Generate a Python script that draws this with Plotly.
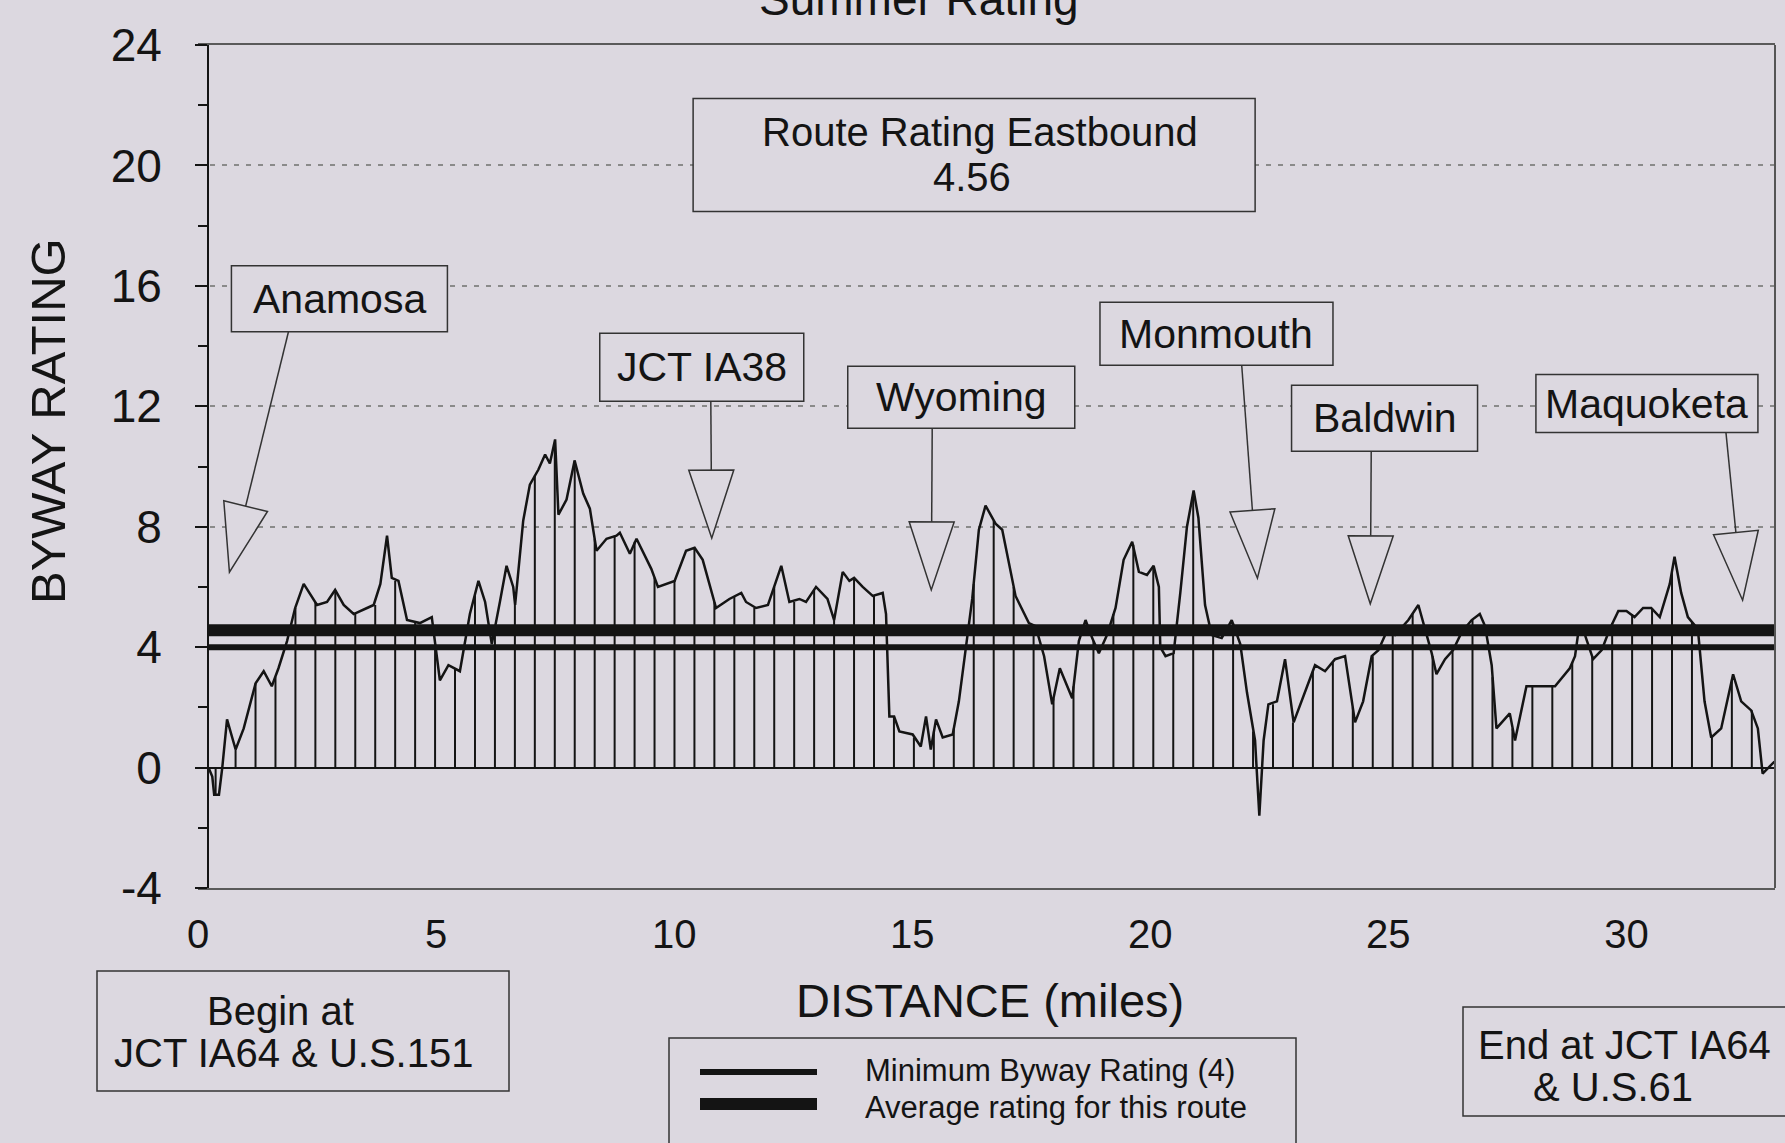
import plotly.graph_objects as go

# ---------------- data ----------------
miles = [0.22, 0.30, 0.34, 0.44, 0.51, 0.61, 0.79, 0.96, 1.21, 1.38, 1.55, 1.69, 1.87, 2.04, 2.22,
         2.50, 2.71, 2.88, 3.06, 3.27, 3.55, 3.69, 3.83, 3.97, 4.07, 4.21, 4.39, 4.66, 4.91, 5.01,
         5.08, 5.26, 5.50, 5.71, 5.89, 6.03, 6.17, 6.34, 6.48, 6.62, 6.66, 6.83, 6.97, 7.15, 7.29,
         7.39, 7.50, 7.57, 7.74, 7.91, 8.09, 8.23, 8.37, 8.58, 8.79, 8.86, 9.07, 9.21, 9.52, 9.66,
         10.01, 10.25, 10.43, 10.60, 10.88, 11.16, 11.41, 11.51, 11.72, 11.97, 12.14, 12.25, 12.42,
         12.63, 12.77, 12.98, 13.22, 13.36, 13.54, 13.68, 13.78, 13.96, 14.17, 14.38, 14.45, 14.52,
         14.62, 14.73, 15.01, 15.18, 15.29, 15.39, 15.50, 15.64, 15.85, 15.98, 16.12, 16.26, 16.40,
         16.54, 16.75, 16.89, 17.17, 17.45, 17.59, 17.77, 17.94, 18.10, 18.36, 18.50, 18.64, 18.78,
         18.92, 19.09, 19.27, 19.44, 19.62, 19.76, 19.93, 20.07, 20.18, 20.21, 20.32, 20.49, 20.63,
         20.77, 20.91, 21.01, 21.15, 21.29, 21.50, 21.71, 21.89, 22.03, 22.20, 22.29, 22.38, 22.48,
         22.66, 22.83, 23.01, 23.25, 23.46, 23.67, 23.88, 24.09, 24.30, 24.47, 24.65, 24.79, 24.96,
         25.14, 25.42, 25.63, 25.77, 25.91, 26.01, 26.19, 26.36, 26.54, 26.75, 26.92, 27.03, 27.17,
         27.27, 27.55, 27.66, 27.90, 28.50, 28.81, 28.92, 28.99, 29.13, 29.30, 29.48, 29.65, 29.83,
         30.00, 30.17, 30.35, 30.52, 30.70, 30.91, 31.01, 31.15, 31.29, 31.50, 31.64, 31.78, 31.99,
         32.24, 32.41, 32.62, 32.76, 32.86, 33.04, 33.11]
rating = [0.0, -0.3, -0.9, -0.9, 0.0, 1.6, 0.6, 1.3, 2.8, 3.2, 2.7, 3.3, 4.2, 5.3, 6.1,
          5.4, 5.5, 5.9, 5.4, 5.1, 5.3, 5.4, 6.1, 7.7, 6.3, 6.2, 4.9, 4.8, 5.0, 3.8,
          2.9, 3.4, 3.2, 5.1, 6.2, 5.5, 4.1, 5.5, 6.7, 6.0, 5.4, 8.2, 9.4, 9.9, 10.4,
          10.1, 10.9, 8.4, 8.9, 10.2, 9.1, 8.6, 7.2, 7.6, 7.7, 7.8, 7.1, 7.6, 6.6, 6.0,
          6.2, 7.2, 7.3, 6.9, 5.3, 5.6, 5.8, 5.5, 5.3, 5.4, 6.2, 6.7, 5.5,
          5.6, 5.5, 6.0, 5.6, 4.9, 6.5, 6.2, 6.3, 6.0, 5.7, 5.8, 5.1, 1.7,
          1.7, 1.2, 1.1, 0.7, 1.7, 0.6, 1.6, 1.0, 1.1, 2.2, 3.9, 5.6, 7.9,
          8.7, 8.1, 7.9, 5.7, 4.8, 4.7, 3.7, 2.1, 3.3, 2.3, 4.2, 4.9, 4.3,
          3.8, 4.4, 5.3, 6.9, 7.5, 6.5, 6.4, 6.7, 6.0, 4.0, 3.7, 3.8, 5.8,
          8.0, 9.2, 8.3, 5.4, 4.4, 4.3, 4.9, 4.1, 2.5, 0.9, -1.6, 0.9, 2.1,
          2.2, 3.6, 1.5, 2.5, 3.4, 3.2, 3.6, 3.7, 1.5, 2.2, 3.7, 3.9, 4.5,
          4.4, 4.9, 5.4, 4.6, 3.8, 3.1, 3.6, 3.9, 4.5, 4.9, 5.1, 4.7, 3.4,
          1.3, 1.8, 0.9, 2.7, 2.7, 3.3, 3.7, 4.5, 4.4, 3.6, 3.9, 4.6, 5.2,
          5.2, 5.0, 5.3, 5.3, 5.0, 6.1, 7.0, 5.8, 5.0, 4.6, 2.2, 1.0, 1.3,
          3.1, 2.2, 1.9, 1.3, -0.2, 0.1, 0.2]

# vertical drop lines: first position, spacing (miles) and the heights read at each one
stem_start = 0.37
stem_step = 0.419
stem_rating = [-0.9, 0.6, 2.8, 3.0, 5.3, 5.5, 5.9, 5.1, 5.4, 6.2, 4.8, 4.1, 3.3, 5.8, 4.7,
               5.4, 9.7, 10.7, 10.2, 7.6, 7.7, 7.5, 6.3, 6.2, 7.3, 5.5, 5.7, 5.3, 6.0, 5.5,
               5.9, 4.9, 6.3, 5.7, 1.7, 1.0, 1.2, 1.3, 6.1, 8.2, 6.0, 4.7, 2.3, 2.7, 4.2,
               5.1, 7.4, 6.7, 3.8, 9.1, 4.4, 4.8, 1.2, 2.1, 1.5, 3.2, 3.5, 2.0, 3.7, 4.4,
               5.1, 3.7, 3.9, 4.9, 3.0, 1.3, 2.7, 2.7, 3.5, 3.7, 4.8, 5.1, 5.3, 6.5, 4.8,
               1.0, 2.9, 1.9]

min_rating = 4.0      # Minimum Byway Rating
avg_rating = 4.56     # Route Rating Eastbound

x_ticks = [0, 5, 10, 15, 20, 25, 30]
y_ticks = [-4, 0, 4, 8, 12, 16, 20, 24]
y_tick_labels = ["-4", "0", "4", "8", "12", "16", "20", "24"]

# town callouts: name, mile and rating the arrow points at
callout_names = ["Anamosa", "JCT IA38", "Wyoming", "Monmouth", "Baldwin", "Maquoketa"]
callout_tip_mile = [0.66, 10.79, 15.40, 22.25, 24.62, 32.44]
callout_tip_rating = [6.49, 7.62, 5.90, 6.29, 5.44, 5.56]

# ---------------- layout constants ----------------
W, H = 1785, 1143
ML, MR, MT, MB = 198, 10, 45, 255
PW, PH = W - ML - MR, H - MT - MB
XR = [0, 33.12]
YR = [-4, 24]
pxm = PW / (XR[1] - XR[0])
pxu = PH / (YR[1] - YR[0])

BG = "#dcd8e0"
INK = "#141414"
BOXLINE = "#333333"
FONT = "Liberation Sans, Arial, sans-serif"

# callout box placement (box centre in data units, box size in px, connector start)
cbox_x = [2.97, 10.58, 16.03, 21.39, 24.92, 30.43]
cbox_y = [15.57, 13.30, 12.30, 14.41, 11.60, 12.09]
cbox_w = [216, 204, 227, 233, 186, 222]
cbox_h = [66, 68, 62, 63, 66, 58]
cline_x = [1.90, 10.77, 15.42, 21.92, 24.64, 32.09]


def d2p(x, y):
    return ML + (x - XR[0]) * pxm, MT + (YR[1] - y) * pxu


def p2d(X, Y):
    return XR[0] + (X - ML) / pxm, YR[1] - (Y - MT) / pxu


def pp(X, Y):
    """absolute page px -> paper coords"""
    return (X - ML) / PW, (H - MB - Y) / PH


fig = go.Figure()

# drop lines
sx, sy = [], []
for k, v in enumerate(stem_rating):
    x = stem_start + k * stem_step
    sx += [x, x, None]
    sy += [0, v, None]
fig.add_trace(go.Scatter(x=sx, y=sy, mode="lines", line=dict(color=INK, width=2),
                         hoverinfo="skip", showlegend=False))
# rating curve
fig.add_trace(go.Scatter(x=miles, y=rating, mode="lines", line=dict(color=INK, width=2.5),
                         name="Rating", showlegend=False))
# minimum and average lines
fig.add_trace(go.Scatter(x=[miles[0], XR[1]], y=[min_rating, min_rating], mode="lines",
                         line=dict(color=INK, width=6), name="Minimum Byway Rating (4)",
                         showlegend=False))
fig.add_trace(go.Scatter(x=[miles[0], XR[1]], y=[avg_rating, avg_rating], mode="lines",
                         line=dict(color=INK, width=12), name="Average rating for this route",
                         showlegend=False))

shapes = []
annotations = []

# callouts
for i, name in enumerate(callout_names):
    cx, cy = d2p(cbox_x[i], cbox_y[i])
    w, h = cbox_w[i], cbox_h[i]
    x0, y0 = p2d(cx - w / 2, cy + h / 2)
    x1, y1 = p2d(cx + w / 2, cy - h / 2)
    shapes.append(dict(type="rect", xref="x", yref="y", x0=x0, x1=x1, y0=y0, y1=y1,
                       line=dict(color=BOXLINE, width=1.5), fillcolor=BG, layer="above"))
    annotations.append(dict(x=cbox_x[i], y=cbox_y[i], xref="x", yref="y", text=name,
                            showarrow=False, font=dict(size=41, color=INK)))
    # connector + open triangle head
    sxp, syp = d2p(cline_x[i], 0)[0], cy + h / 2
    tx, ty = d2p(callout_tip_mile[i], callout_tip_rating[i])
    dx, dy = tx - sxp, ty - syp
    L = (dx * dx + dy * dy) ** 0.5
    ux, uy = dx / L, dy / L
    bx, by = tx - 68 * ux, ty - 68 * uy
    px_, py_ = -uy, ux
    a = p2d(bx + 22.5 * px_, by + 22.5 * py_)
    b = p2d(bx - 22.5 * px_, by - 22.5 * py_)
    t = p2d(tx, ty)
    s0 = p2d(sxp, syp)
    bc = p2d(bx, by)
    shapes.append(dict(type="line", xref="x", yref="y", x0=s0[0], y0=s0[1], x1=bc[0], y1=bc[1],
                       line=dict(color=BOXLINE, width=1.5), layer="above"))
    shapes.append(dict(type="path", xref="x", yref="y",
                       path=f"M {a[0]},{a[1]} L {b[0]},{b[1]} L {t[0]},{t[1]} Z",
                       line=dict(color=BOXLINE, width=1.5), fillcolor=BG, layer="above"))

# route rating box
rx, ry = 16.30, 20.35
rcx, rcy = d2p(rx, ry)
r0 = p2d(rcx - 281, rcy + 56.5)
r1 = p2d(rcx + 281, rcy - 56.5)
shapes.append(dict(type="rect", xref="x", yref="y", x0=r0[0], y0=r0[1], x1=r1[0], y1=r1[1],
                   line=dict(color=BOXLINE, width=1.5), fillcolor=BG, layer="above"))
annotations.append(dict(x=rx, y=ry, xref="x", yref="y", text="Route Rating Eastbound",
                        showarrow=False, xshift=6, yshift=23, font=dict(size=40, color=INK)))
annotations.append(dict(x=rx, y=ry, xref="x", yref="y", text=f"{avg_rating:.2f}",
                        showarrow=False, xshift=-2, yshift=-22, font=dict(size=40, color=INK)))


def paper_rect(X0, Y0, X1, Y1):
    a0 = pp(X0, Y1)
    a1 = pp(X1, Y0)
    return dict(type="rect", xref="paper", yref="paper", x0=a0[0], y0=a0[1], x1=a1[0], y1=a1[1],
                line=dict(color=BOXLINE, width=1.5), fillcolor=BG, layer="above")


def paper_text(txt, X, Y, size, xanchor="center"):
    p = pp(X, Y)
    return dict(x=p[0], y=p[1], xref="paper", yref="paper", text=txt, showarrow=False,
                xanchor=xanchor, yanchor="middle", font=dict(size=size, color=INK))


# begin / end boxes
shapes.append(paper_rect(97, 971, 509, 1091))
annotations.append(paper_text("Begin at", 280, 1011, 40))
annotations.append(paper_text("JCT IA64 & U.S.151", 293, 1053, 40))
shapes.append(paper_rect(1463, 1007, 1795, 1116))
annotations.append(paper_text("End at JCT IA64", 1624, 1045, 40))
annotations.append(paper_text("& U.S.61", 1613, 1087, 40))

# legend box
shapes.append(paper_rect(669, 1038, 1296, 1155))
for yy, lw in ((1072, 6), (1104, 12)):
    a0 = pp(700, yy)
    a1 = pp(817, yy)
    shapes.append(dict(type="line", xref="paper", yref="paper", x0=a0[0], y0=a0[1], x1=a1[0],
                       y1=a1[1], line=dict(color=INK, width=lw), layer="above"))
annotations.append(paper_text("Minimum Byway Rating (4)", 863, 1070, 31, "left"))
annotations.append(paper_text("Average rating for this route", 863, 1107, 31, "left"))

# right frame line
shapes.append(dict(type="line", xref="paper", yref="paper", x0=1, x1=1, y0=0, y1=1,
                   line=dict(color="#555555", width=2)))

# titles
annotations.append(paper_text("Summer Rating", 919, -1, 46))
annotations.append(paper_text("DISTANCE (miles)", 990, 1001, 47))
p = pp(48, 421)
annotations.append(dict(x=p[0], y=p[1], xref="paper", yref="paper", text="BYWAY RATING",
                        textangle=-90, showarrow=False, xanchor="center", yanchor="middle",
                        font=dict(size=49, color=INK)))

fig.update_layout(
    width=W, height=H,
    margin=dict(l=ML, r=MR, t=MT, b=MB, autoexpand=False),
    paper_bgcolor=BG, plot_bgcolor=BG,
    showlegend=False,
    font=dict(family=FONT, color=INK),
    shapes=shapes, annotations=annotations,
)
fig.update_xaxes(range=XR, tickvals=x_ticks, ticks="", showgrid=False, zeroline=False,
                 showline=True, mirror=True, linecolor="#5a5a5a", linewidth=2,
                 tickfont=dict(size=40, color=INK), ticklabelstandoff=10)
fig.update_yaxes(range=YR, tickvals=y_ticks, ticktext=y_tick_labels, anchor="free",
                 position=(208 - ML) / PW,
                 ticks="outside", ticklen=12, tickwidth=2, tickcolor=INK,
                 minor=dict(tick0=0, dtick=2, ticks="outside", ticklen=9, tickwidth=1.5,
                            tickcolor=INK, showgrid=False),
                 showgrid=True, gridcolor="#8a8a8a", gridwidth=1.5, griddash="5px,7px",
                 zeroline=True, zerolinecolor=INK, zerolinewidth=2,
                 showline=True, linecolor=INK, linewidth=2,
                 tickfont=dict(size=46, color=INK), ticklabelstandoff=24)

fig.write_html("out.html", config={"displayModeBar": False},
               post_script="document.body.style.margin='0';document.body.style.overflow='hidden';")
